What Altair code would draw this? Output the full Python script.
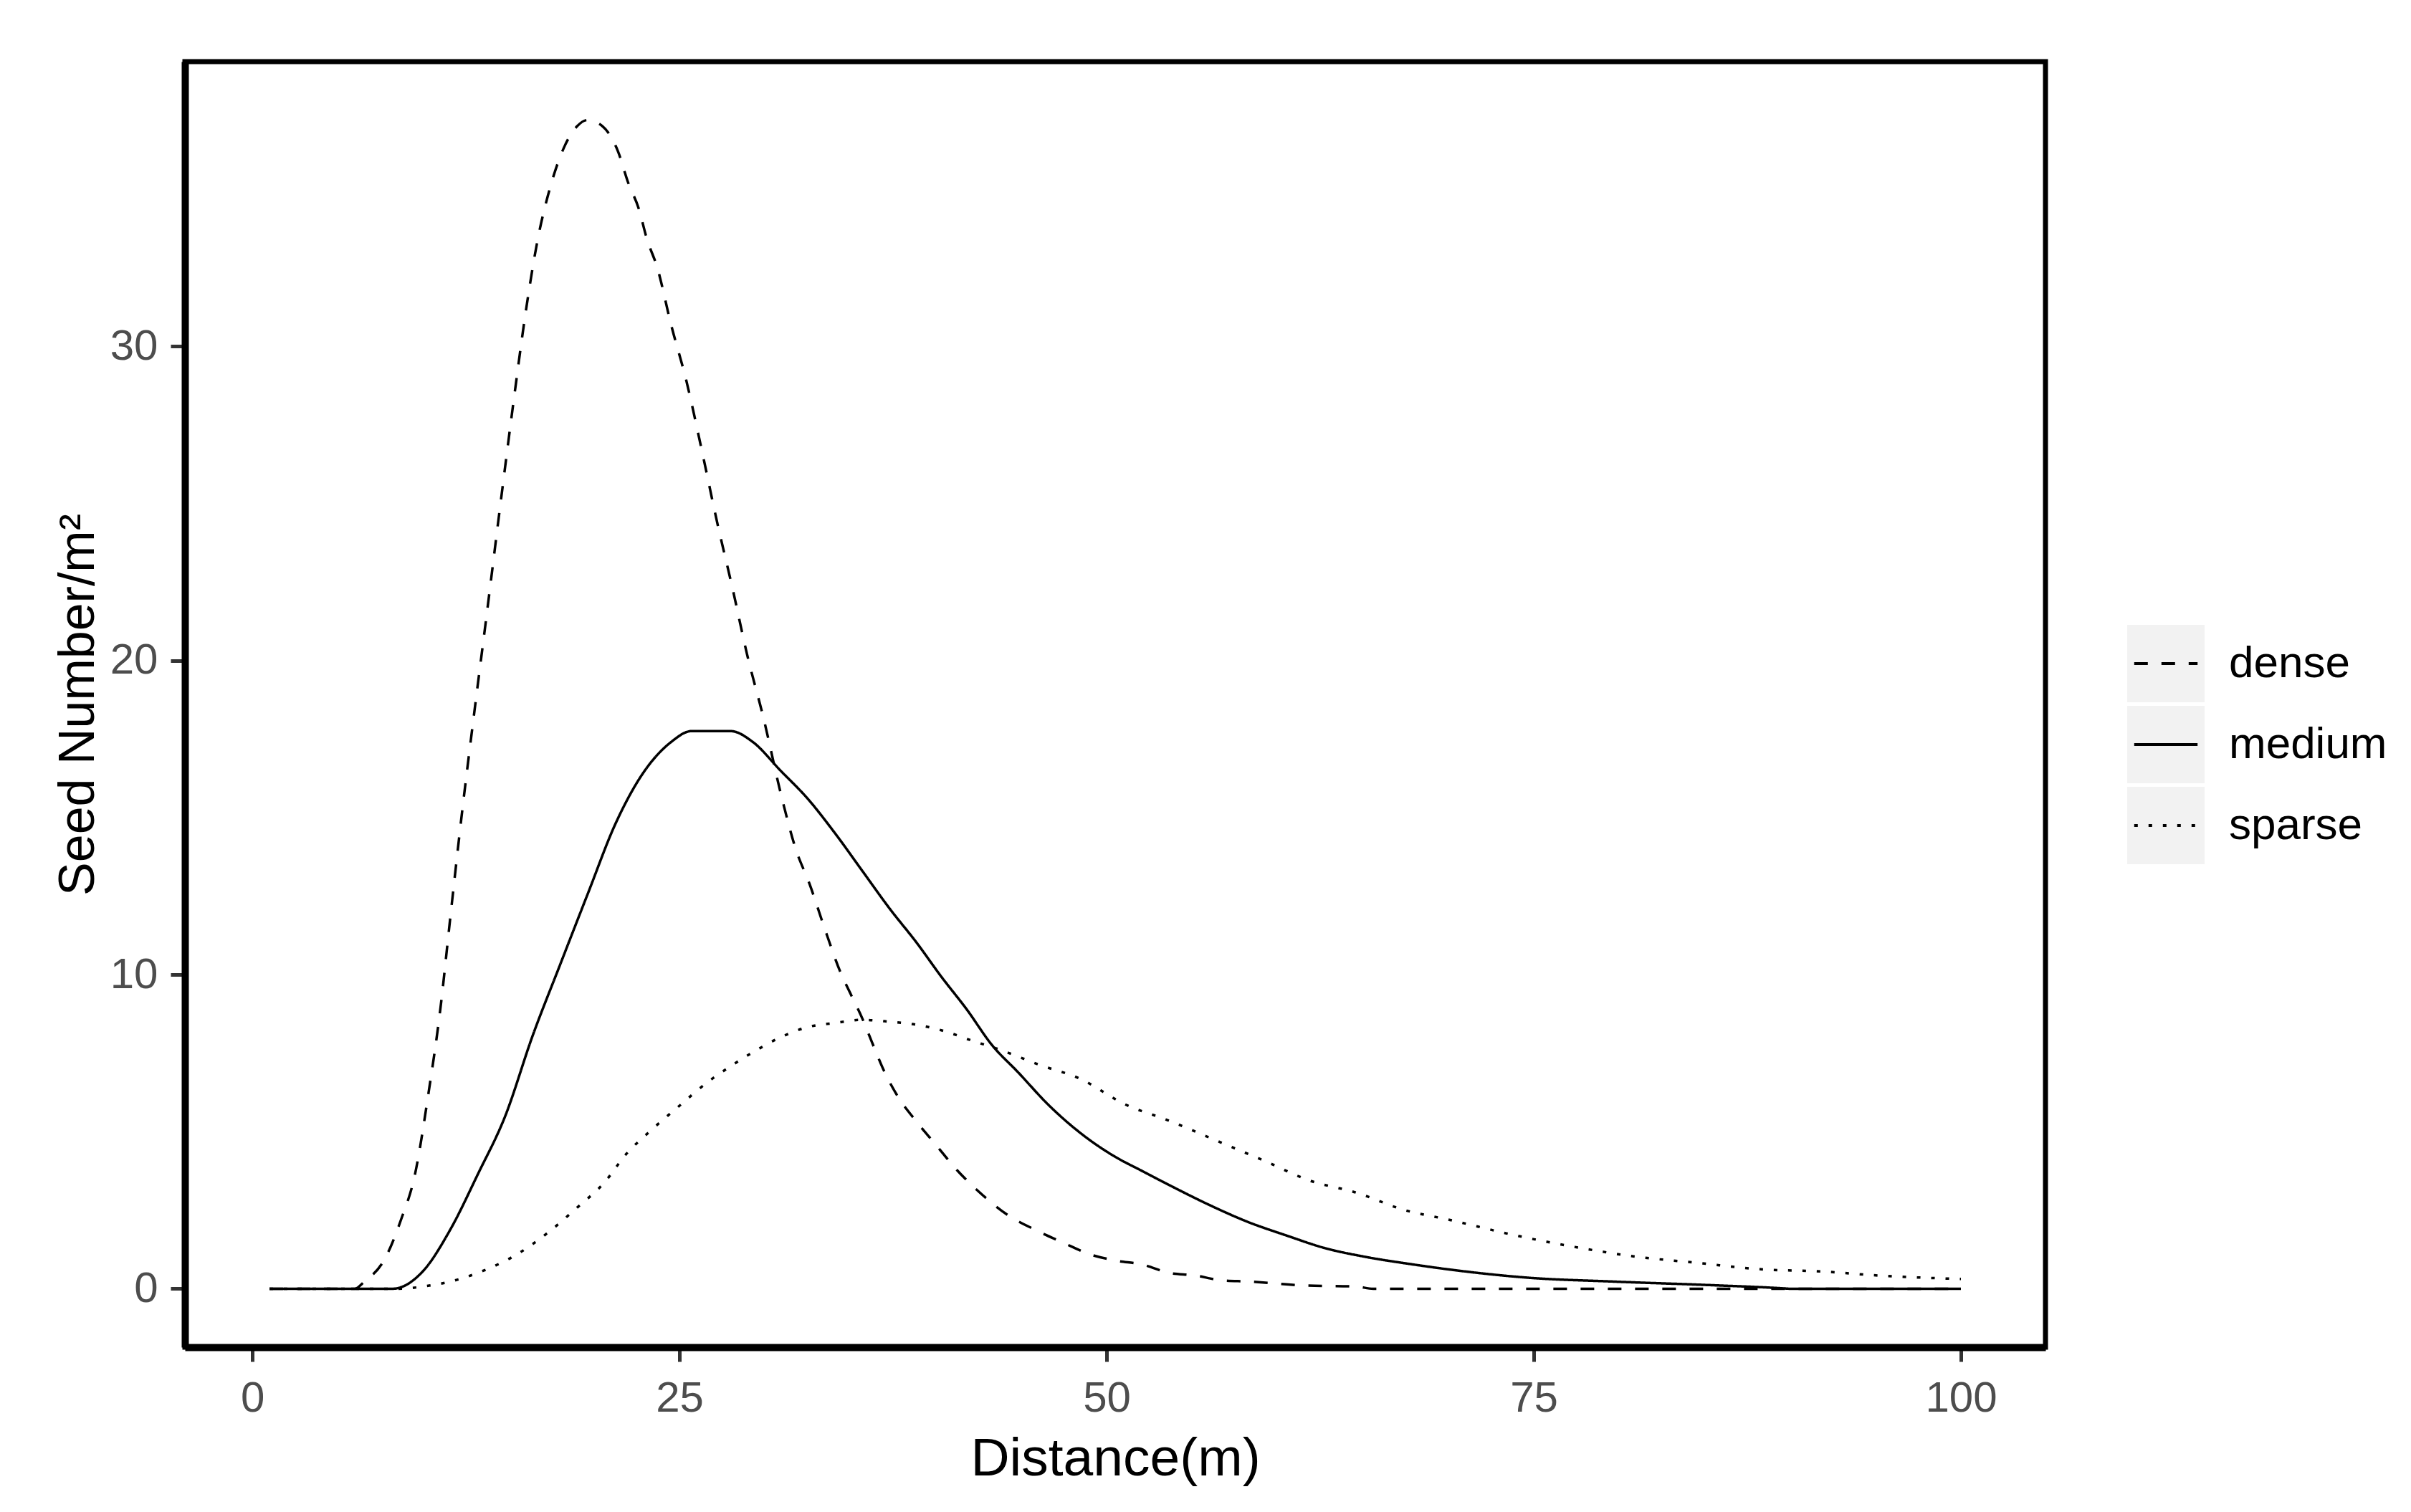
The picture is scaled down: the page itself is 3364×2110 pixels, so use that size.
import altair as alt
import pandas as pd

# ---- data ----
series_names = ["dense", "medium", "sparse"]
bg_names = ["bg_dense", "bg_medium", "bg_sparse"]

dense_x = [1, 6, 6.5, 7.8, 8.7, 9.5, 10.3, 11.0, 11.6, 12.3, 13.0, 13.7, 14.5, 15.3, 16.0,
           16.7, 17.4, 18.3, 19.0, 19.6, 20.5, 21.4, 22.0, 22.6, 23.1, 23.7, 24.5, 25.4,
           26.3, 27.2, 28.1, 28.95, 29.9, 31.0, 31.8, 32.6, 33.6, 34.4, 35.0, 35.7, 36.3,
           37.0, 37.8, 38.9, 39.9, 41.2, 42.6, 44.2, 45.8, 47.4, 49.0, 50.5, 52.1, 53.7,
           55.1, 56.7, 58.3, 61.4, 64.6, 65.6, 100]
dense_y = [0, 0, 0.2, 1.0, 2.2, 3.6, 6.2, 8.9, 11.9, 15.3, 18.4, 21.4, 24.9, 28.3, 31.1,
           33.4, 35.0, 36.4, 37.0, 37.2, 37.0, 36.2, 35.2, 34.4, 33.4, 32.5, 30.7, 28.9,
           26.7, 24.4, 22.3, 20.2, 18.2, 15.6, 14.0, 12.9, 11.3, 10.1, 9.4, 8.6, 7.8,
           6.9, 6.1, 5.3, 4.65, 3.8, 3.05, 2.35, 1.88, 1.48, 1.1, 0.9, 0.77, 0.5,
           0.43, 0.27, 0.23, 0.11, 0.07, 0, 0]

medium_x = [1, 8.2, 10.0, 11.6, 13.2, 14.8, 16.4, 18.0, 19.65, 21.25, 22.85, 24.5, 25.7,
            28.0, 29.3, 30.9, 32.5, 34.1, 35.7, 37.3, 38.9, 40.3, 41.8, 43.3, 44.8, 46.6,
            48.6, 50.5, 52.0, 53.7, 56.0, 58.3, 60.55, 62.8, 65.1, 67.85, 71.0, 74.7,
            79.6, 85.6, 89.7, 90, 100]
medium_y = [0, 0, 0.57, 1.9, 3.65, 5.5, 8.05, 10.3, 12.6, 14.8, 16.4, 17.4, 17.75,
            17.75, 17.4, 16.5, 15.6, 14.5, 13.3, 12.1, 11.0, 9.95, 8.9, 7.75, 6.9, 5.85,
            4.9, 4.2, 3.77, 3.29, 2.67, 2.12, 1.69, 1.29, 1.02, 0.78, 0.55, 0.35,
            0.23, 0.11, 0.01, 0, 0]

sparse_x = [1, 8.5, 10.35, 11.6, 13.5, 15.5, 17.4, 19.0, 20.6, 21.9, 23.2, 24.9, 26.7,
            27.7, 29.3, 30.9, 32.5, 34.1, 35.7, 37.3, 38.9, 40.5, 42.1, 43.7, 46.0, 48.5,
            51.0, 53.7, 56.5, 59.2, 61.9, 64.6, 67.4, 70.1, 73.75, 77.4, 81.0, 84.65,
            88.3, 91.9, 94.9, 100]
sparse_y = [0, 0, 0.1, 0.23, 0.57, 1.1, 1.83, 2.58, 3.38, 4.3, 4.98, 5.78, 6.6,
            6.98, 7.53, 8.0, 8.33, 8.46, 8.56, 8.5, 8.4, 8.2, 7.9, 7.62, 7.14, 6.67,
            5.89, 5.34, 4.7, 4.08, 3.44, 3.06, 2.51, 2.19, 1.72, 1.33, 1.02, 0.82,
            0.62, 0.55, 0.43, 0.31]

x_ticks = [0, 25, 50, 75, 100]
y_ticks = [0, 10, 20, 30]

rows = []
for name, bgname, xs, ys in [("dense", "bg_dense", dense_x, dense_y),
                             ("medium", "bg_medium", medium_x, medium_y),
                             ("sparse", "bg_sparse", sparse_x, sparse_y)]:
    for xv, yv in zip(xs, ys):
        rows.append({"x": xv, "y": yv, "series": name, "series_bg": bgname})
df = pd.DataFrame(rows)

FONT = "Liberation Sans"
W, H = 2596, 1794
ymax = 37.2

x_enc = alt.X(
    "x:Q",
    scale=alt.Scale(domain=[-3.95, 104.95], nice=False, zero=False),
    axis=alt.Axis(
        values=x_ticks, title="Distance(m)", grid=False,
        domainColor="black", domainWidth=10,
        tickColor="#333333", tickWidth=5, tickSize=20,
        labelFont=FONT, labelFontSize=60, labelColor="#4D4D4D",
        labelBaseline="alphabetic", labelPadding=69, labelFlush=False,
        titleFont=FONT, titleFontSize=75, titleFontWeight="normal", titleColor="black",
        titleBaseline="alphabetic", titleY=178,
    ),
)
y_enc = alt.Y(
    "y:Q",
    scale=alt.Scale(domain=[-0.05 * ymax, 1.05 * ymax], nice=False, zero=False),
    axis=alt.Axis(
        values=y_ticks, title="Seed Number/m²", grid=False,
        domainColor="black", domainWidth=10,
        tickColor="#333333", tickWidth=5, tickSize=20,
        labelFont=FONT, labelFontSize=60, labelColor="#4D4D4D",
        labelPadding=18, labelFlush=False,
        titleFont=FONT, titleFontSize=70, titleFontWeight="normal", titleColor="black",
        titleBaseline="alphabetic", titleX=-128,
    ),
)

legend_common = dict(
    orient="none", legendX=2710, legendY=786, padding=0, title=None,
    symbolSize=10816, symbolStrokeWidth=4, rowPadding=5, labelOffset=34,
    labelFont=FONT, labelFontSize=62, labelLimit=600, clipHeight=108,
)

bg = alt.Chart(df).transform_filter("false").mark_square().encode(
    x=x_enc, y=y_enc,
    fill=alt.Fill(
        "series_bg:N",
        scale=alt.Scale(domain=bg_names, range=["#F2F2F2"] * 3),
        legend=alt.Legend(symbolType="square", symbolStrokeColor="#F2F2F2",
                          symbolOpacity=1, labelExpr="''", **legend_common),
    ),
)

lines = alt.Chart(df).mark_line(color="black", strokeWidth=3.5, interpolate="monotone").encode(
    x=x_enc, y=y_enc,
    strokeDash=alt.StrokeDash(
        "series:N",
        scale=alt.Scale(domain=series_names, range=[[19, 19], [1, 0], [5, 15]]),
        legend=alt.Legend(symbolType="M-0.85,0L0.85,0", symbolStrokeColor="black",
                          symbolFillColor="transparent", labelColor="black",
                          **legend_common),
    ),
    order="x:Q",
)

chart = alt.layer(bg, lines).properties(
    width=W, height=H,
    autosize=alt.AutoSizeParams(type="none"),
    padding={"left": 250, "top": 78, "right": 500, "bottom": 230},
    background="white",
).configure_view(stroke="black", strokeWidth=7)

chart.save("out.html", embed_options={"renderer": "svg", "actions": False})
